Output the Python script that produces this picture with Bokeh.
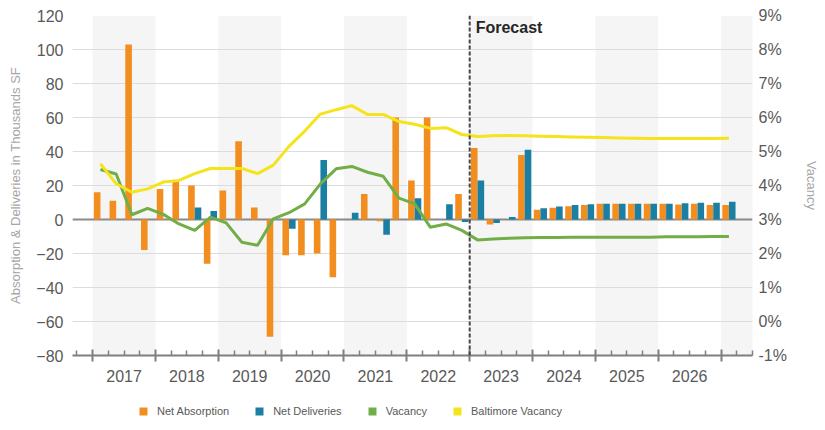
import numpy as np
from bokeh.plotting import figure
from bokeh.layouts import column
from bokeh.models import (Range1d, LinearAxis, FixedTicker, PrintfTickFormatter, Span, Label,
                          Legend, LegendItem, ColumnDataSource)
from bokeh.embed import file_html
from bokeh.resources import INLINE

# ---------------- data ----------------
years = [2017, 2018, 2019, 2020, 2021, 2022, 2023, 2024, 2025, 2026]
quarters = [f"{y} Q{q}" for y in range(2017, 2028) for q in range(1, 5)][:41]
forecast_start = "2023 Q1"

net_absorption = [16, 11, 103, -18,
                  18, 22, 20, -26,
                  17, 46, 7, -69,
                  -21, -21, -20, -34,
                  0, 15, -1, 60,
                  23, 60, 0, 15,
                  42, -3, 0, 38,
                  5.7, 6.9, 7.8, 8.6,
                  9.2, 9.2, 9.2, 9.2,
                  9.2, 8.8, 9.2, 8.6,
                  8.6]

net_deliveries = [0, 0, 0, 0,
                  0, 0, 7, 5,
                  0, 0, 0, 0,
                  -5.5, 0, 35, 0,
                  4, 0, -9, 0,
                  12.5, 0, 9, -1.5,
                  23, -2, 1.5, 41,
                  6.6, 7.6, 8.6, 9,
                  9.2, 9.2, 9.2, 9.2,
                  9.2, 9.6, 9.8, 9.8,
                  10.4]

vacancy = [4.47, 4.34, 3.14, 3.33,
           3.15, 2.87, 2.68, 3.07,
           2.90, 2.33, 2.24, 3.02,
           3.20, 3.46, 4.05, 4.49,
           4.56, 4.39, 4.27, 3.63,
           3.46, 2.77, 2.87, 2.68,
           2.40, 2.43, 2.45, 2.46,
           2.47, 2.47, 2.48, 2.48,
           2.48, 2.48, 2.48, 2.48,
           2.49, 2.49, 2.49, 2.50,
           2.50]

baltimore_vacancy = [4.64, 4.05, 3.80, 3.90,
                     4.10, 4.15, 4.35, 4.50,
                     4.50, 4.50, 4.35, 4.60,
                     5.15, 5.60, 6.10, 6.23,
                     6.35, 6.09, 6.09, 5.88,
                     5.80, 5.68, 5.70, 5.50,
                     5.44, 5.46, 5.47, 5.46,
                     5.45, 5.44, 5.43, 5.42,
                     5.41, 5.40, 5.39, 5.38,
                     5.38, 5.38, 5.38, 5.38,
                     5.39]

left_ticks = [-80, -60, -40, -20, 0, 20, 40, 60, 80, 100, 120]
right_ticks = [-1, 0, 1, 2, 3, 4, 5, 6, 7, 8, 9]
shaded_years = [2017, 2019, 2021, 2023, 2025, 2027]
series_names = ["Net Absorption", "Net Deliveries", "Vacancy", "Baltimore Vacancy"]

# ---------------- style ----------------
ORANGE = "#f28e1f"
BLUE = "#1b7fa3"
GREEN = "#72ae48"
YELLOW = "#f5e31b"
TICK_COLOR = "#595959"
TITLE_COLOR = "#a6a6a6"
FONT = "Liberation Sans"

qi = np.arange(len(quarters))
src = ColumnDataSource(dict(
    xa=qi + 0.29, xd=qi + 0.71, xl=qi + 0.5,
    absorption=net_absorption, deliveries=net_deliveries,
    vac=vacancy, balt=baltimore_vacancy,
))

p = figure(width=825, height=395, output_backend="svg", toolbar_location=None,
           x_range=Range1d(-1.28, 42.0), y_range=Range1d(min(left_ticks), max(left_ticks)),
           min_border_left=72, min_border_right=73, min_border_top=15, min_border_bottom=40,
           outline_line_color=None, background_fill_color="white", border_fill_color="white")
p.extra_y_ranges = {"vac": Range1d(min(right_ticks), max(right_ticks))}

# alternating year bands
band_left = [(y - years[0]) * 4 for y in shaded_years]
band_right = [b + 4 for b in band_left]
p.quad(left=band_left, right=band_right, bottom=min(left_ticks), top=max(left_ticks),
       fill_color="#f5f5f5", line_color=None, level="image")

# grid
p.xgrid.grid_line_color = None
p.ygrid.ticker = FixedTicker(ticks=left_ticks)
p.ygrid.grid_line_color = "#dcdcdc"
p.ygrid.grid_line_width = 1

# zero line
p.add_layout(Span(location=0, dimension="width", line_color="#8a8a8a", line_width=2, level="underlay"))

# bars
p.vbar(x="xa", top="absorption", bottom=0, width=0.42, source=src,
       fill_color=ORANGE, line_color=None)
p.vbar(x="xd", top="deliveries", bottom=0, width=0.42, source=src,
       fill_color=BLUE, line_color=None)

# lines
p.line(x="xl", y="vac", source=src, y_range_name="vac", line_color=GREEN, line_width=3)
p.line(x="xl", y="balt", source=src, y_range_name="vac", line_color=YELLOW, line_width=3)

# forecast marker
fidx = quarters.index(forecast_start)
p.add_layout(Span(location=fidx, dimension="height", line_color="#454545",
                  line_width=2, line_dash="4 2"))
p.add_layout(Label(x=fidx, y=max(left_ticks), x_offset=6, y_offset=-3, text="Forecast",
                   text_font=FONT, text_font_style="bold", text_font_size="16px",
                   text_color="#262626", text_baseline="top", text_align="left"))

# left axis
ya = p.yaxis[0]
ya.ticker = FixedTicker(ticks=left_ticks)
ya.axis_line_color = None
ya.major_tick_line_color = None
ya.minor_tick_line_color = None
ya.major_label_standoff = 3
ya.major_label_text_font = FONT
ya.major_label_text_font_size = "16px"
ya.major_label_text_color = TICK_COLOR
ya.axis_label = "Absorption & Deliveries in Thousands SF"
ya.axis_label_text_font = FONT
ya.axis_label_text_font_size = "13px"
ya.axis_label_text_font_style = "normal"
ya.axis_label_text_color = TITLE_COLOR
ya.axis_label_standoff = 10

# right axis
ra = LinearAxis(y_range_name="vac", ticker=FixedTicker(ticks=right_ticks),
                formatter=PrintfTickFormatter(format="%d%%"))
ra.axis_line_color = None
ra.major_tick_line_color = None
ra.minor_tick_line_color = None
ra.major_label_standoff = 0
ra.major_label_text_font = FONT
ra.major_label_text_font_size = "16px"
ra.major_label_text_color = TICK_COLOR
ra.axis_label = "Vacancy"
ra.axis_label_text_font = FONT
ra.axis_label_text_font_size = "13px"
ra.axis_label_text_font_style = "normal"
ra.axis_label_text_color = TITLE_COLOR
ra.axis_label_standoff = 14
p.add_layout(ra, "right")

# bottom axis: ticks only (labels not drawn)
xa = p.xaxis[0]
n_q = len(quarters)
xa.ticker = FixedTicker(ticks=[i for i in range(0, n_q, 4)],
                        minor_ticks=[i for i in range(-1, 43) if i % 4 != 0])
xa.axis_line_color = "#7f7f7f"
xa.axis_line_width = 2
xa.major_tick_line_color = "#7f7f7f"
xa.major_tick_line_width = 2
xa.major_tick_in = 6
xa.major_tick_out = 6
xa.minor_tick_line_color = "#7f7f7f"
xa.minor_tick_line_width = 1.5
xa.minor_tick_in = 5
xa.minor_tick_out = 0
xa.major_label_text_font_size = "1px"
xa.major_label_text_color = None
xa.major_label_standoff = 0

# bottom axis: year labels centred in each year
year_centers = [(y - years[0]) * 4 + 2 for y in years]
ya2 = LinearAxis(ticker=FixedTicker(ticks=year_centers, minor_ticks=[]),
                 major_label_overrides={c: str(y) for c, y in zip(year_centers, years)})
ya2.axis_line_color = None
ya2.major_tick_line_color = None
ya2.minor_tick_line_color = None
ya2.major_label_standoff = 2
ya2.major_label_text_font = FONT
ya2.major_label_text_font_size = "16px"
ya2.major_label_text_color = TICK_COLOR
p.add_layout(ya2, "below")

# legend strip (separate figure below the chart)
lg = figure(width=825, height=35, output_backend="svg", toolbar_location=None,
            x_axis_type=None, y_axis_type=None, x_range=Range1d(0, 1), y_range=Range1d(0, 1),
            min_border=0, min_border_left=0, min_border_right=0,
            min_border_top=0, min_border_bottom=0,
            outline_line_color=None, background_fill_color="white",
            border_fill_color="white")
swatches = []
for c in [ORANGE, BLUE, GREEN, YELLOW]:
    # zero-height bars: they only provide the legend swatch colour
    swatches.append(lg.vbar(x=[0.5], top=[0], bottom=[0], width=0.1,
                            fill_color=c, line_color=None))
legend = Legend(items=[LegendItem(label=n, renderers=[r]) for n, r in zip(series_names, swatches)],
                orientation="horizontal", location=(66, 13),
                glyph_width=10, glyph_height=10, label_height=10, label_standoff=9,
                spacing=25, padding=0, margin=0, border_line_color=None,
                background_fill_alpha=0,
                label_text_font=FONT, label_text_font_size="11px",
                label_text_color=TICK_COLOR)
lg.add_layout(legend, "center")

layout = column(p, lg, spacing=0)
open("out.html", "w").write(file_html(layout, INLINE))
